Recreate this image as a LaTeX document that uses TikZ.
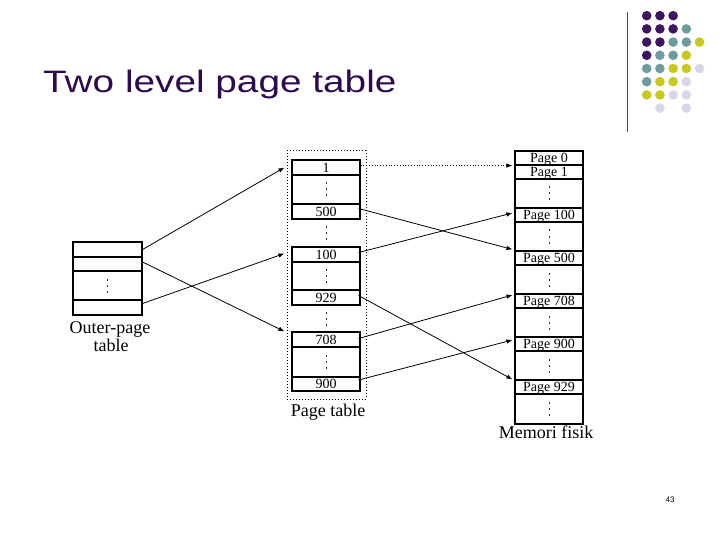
\documentclass[tikz,border=0pt]{standalone}
\usepackage{graphicx}
\usepackage{fontspec}
\setmainfont{Liberation Serif}
\newfontfamily\titlefont{Liberation Sans}
\usetikzlibrary{arrows.meta,calc}
\definecolor{titlecol}{RGB}{45,10,80}
\definecolor{dotP}{RGB}{62,22,96}
\definecolor{dotT}{RGB}{110,155,160}
\definecolor{dotY}{RGB}{200,200,30}
\definecolor{dotL}{RGB}{215,215,232}
\tikzset{
  cell/.style={draw, line width=1.1pt, minimum width=68pt, minimum height=#1, inner sep=0pt,
    text height=11pt, text depth=1.5pt, font=\fontsize{14}{14}\selectfont},
  vdotsfill/.style={path picture={
      \foreach \dy in {-6,0,6}
        \fill[black!80] ($(path picture bounding box.center)+(-0.45,\dy-1)$) rectangle ++(0.9,2);}},
  cellv/.style={draw, line width=1.1pt, minimum width=68pt, minimum height=#1, inner sep=0pt, vdotsfill},
  gapdots/.style={inner sep=0pt, minimum width=6pt, minimum height=20pt, vdotsfill},
  lab/.style={inner sep=0pt, anchor=base, font=\fontsize{18}{18}\selectfont},
  arr/.style={line width=0.8pt, -{Latex[length=6pt,width=4.5pt]}},
  deco/.style={circle, inner sep=0pt, minimum size=9.6pt}
}
\begin{document}
\begin{tikzpicture}[x=1pt,y=-1pt]
\useasboundingbox (0,0) rectangle (720,540);
% title
\node[anchor=base west, inner sep=0pt, text=titlecol, font=\titlefont\fontsize{31}{31}\selectfont] (title) at (43,93) {\scalebox{1.25}[1]{Two level page table}};
% decoration
\draw[line width=1pt, black!70] (627,12) -- (627,132);
\foreach \c/\r/\col in {0/0/dotP,1/0/dotP,2/0/dotP,
  0/1/dotP,1/1/dotP,2/1/dotP,3/1/dotT,
  0/2/dotP,1/2/dotP,2/2/dotT,3/2/dotT,4/2/dotY,
  0/3/dotP,1/3/dotT,2/3/dotT,3/3/dotY,
  0/4/dotT,1/4/dotT,2/4/dotY,3/4/dotY,4/4/dotL,
  0/5/dotT,1/5/dotY,2/5/dotY,3/5/dotL,
  0/6/dotY,1/6/dotY,2/6/dotL,3/6/dotL,
  1/7/dotL,3/7/dotL}
  \node[deco, fill=\col] (dot-\c-\r) at ({646.7+13.2*\c},{15.7+13.2*\r}) {};
% outer page table
\node[cell=15pt, minimum width=69pt] (o1) at (107.5,249.5) {};
\node[cell=14pt, minimum width=69pt] (o2) at (107.5,264) {};
\node[cellv=29pt, minimum width=69pt] (od) at (107.5,285.5) {};
\node[cell=15pt, minimum width=69pt] (o3) at (107.5,307.5) {};
\node[lab] (olab1) at (110,333) {Outer-page};
\node[lab] (olab2) at (111,351) {table};
% page table
\node[draw, dotted, line width=1pt, minimum width=79pt, minimum height=248pt, inner sep=0pt] (ptbox) at (326.5,275) {};
\node[cell=15pt] (r1) at (326,167.5) {1};
\node[cellv=29pt] (d1) at (326,189.5) {};
\node[cell=15pt] (r500) at (326,211.5) {500};
\node[gapdots] (g1) at (326,233) {};
\node[cell=15pt] (r100) at (326,254.5) {100};
\node[cellv=28pt] (d2) at (326,276) {};
\node[cell=15pt] (r929) at (326,297.5) {929};
\node[gapdots] (g2) at (326,318.5) {};
\node[cell=15pt] (r708) at (326,339.5) {708};
\node[cellv=30pt] (d3) at (326,362) {};
\node[cell=14pt] (r900) at (326,384) {900};
\node[lab] (ptlab) at (328,416.5) {Page table};
% physical memory
\node[cell=14pt] (mp0) at (549,158) {Page 0};
\node[cell=14pt] (mp1) at (549,172) {Page 1};
\node[cellv=29pt] (md1) at (549,193.5) {};
\node[cell=14pt] (m100) at (549,215) {Page 100};
\node[cellv=29pt] (md2) at (549,236.5) {};
\node[cell=14pt] (m500) at (549,258) {Page 500};
\node[cellv=29pt] (md3) at (549,279.5) {};
\node[cell=14pt] (m708) at (549,301) {Page 708};
\node[cellv=29pt] (md4) at (549,322.5) {};
\node[cell=14pt] (m900) at (549,344) {Page 900};
\node[cellv=29pt] (md5) at (549,365.5) {};
\node[cell=14pt] (m929) at (549,387) {Page 929};
\node[cellv=30pt] (md6) at (549,409) {};
\node[lab] (mlab) at (546,438) {Memori fisik};
% arrows outer -> page table
\draw[arr] (o1.east) -- ($(r1.west)+(-7,0)$);
\draw[arr] ($(o2.east)+(0,-2)$) -- ($(r708.north west)+(-7,0)$);
\draw[arr] ($(o3.east)+(0,-4)$) -- ($(r100.west)+(-7,-1)$);
% arrows page table -> memory
\draw[arr, dotted] (r1.east |- mp0.south) -- ($(mp0.south west)+(-2,0)$);
\draw[arr] ($(r500.east)+(-2,-3)$) -- ($(m500.north west)+(-2,-1)$);
\draw[arr] ($(r100.east)+(-2,-2)$) -- ($(m100.west)+(-2,-2)$);
\draw[arr] ($(r929.east)+(-2,-2)$) -- ($(m929.north west)+(-2,0)$);
\draw[arr] ($(r708.east)+(-2,-1)$) -- ($(m708.west)+(-2,-6)$);
\draw[arr] ($(r900.east)+(-2,-4)$) -- ($(m900.west)+(-2,-4)$);
% slide number
\node[inner sep=0pt, font=\titlefont\fontsize{8}{8}\selectfont] (num) at (670,500) {43};
\end{tikzpicture}
\end{document}
